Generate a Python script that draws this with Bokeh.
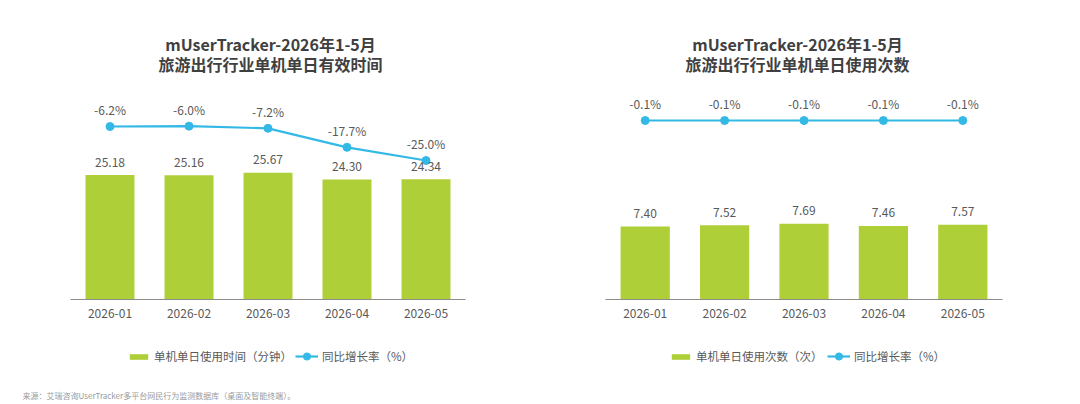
from bokeh.plotting import figure
from bokeh.models import (ColumnDataSource, FactorRange, Range1d, LabelSet,
                          Label, Legend, LegendItem)
from bokeh.layouts import row
from bokeh.embed import file_html
from bokeh.resources import INLINE
from bokeh.core.properties import value

months = ["2026-01", "2026-02", "2026-03", "2026-04", "2026-05"]

time_values = [25.18, 25.16, 25.67, 24.30, 24.34]
time_growth = [-6.2, -6.0, -7.2, -17.7, -25.0]

count_values = [7.40, 7.52, 7.69, 7.46, 7.57]
count_growth = [-0.1, -0.1, -0.1, -0.1, -0.1]

title_left = ["mUserTracker-2026年1-5月", "旅游出行行业单机单日有效时间"]
title_right = ["mUserTracker-2026年1-5月", "旅游出行行业单机单日使用次数"]
legend_bar_left = "单机单日使用时间（分钟）"
legend_bar_right = "单机单日使用次数（次）"
legend_line = "同比增长率（%）"
source_note = "来源：艾瑞咨询UserTracker多平台网民行为监测数据库（桌面及智能终端）。"

BAR = "#AECF37"
LINE = "#33B9E6"
TXT = "#595959"
TITLE = "#404040"
FONT = "Noto Sans CJK SC"
H = 402


def make_chart(vals, growth, titles, bar_label, bar_range, line_range,
               frame_w, border_right, pad, title_x, legend_x, legend2_x, footer=False):
    src = ColumnDataSource(dict(
        m=months, v=vals, g=growth,
        vt=["%.2f" % x for x in vals],
        gt=["%.1f%%" % x for x in growth],
    ))
    xr = FactorRange(*months, factor_padding=0, range_padding=pad,
                     range_padding_units="absolute")
    p = figure(x_range=xr, y_range=Range1d(*bar_range),
               width=frame_w + border_right, height=H,
               frame_width=frame_w, frame_height=H,
               min_border_left=0, min_border_right=border_right,
               min_border_top=0, min_border_bottom=0,
               y_axis_location=None, toolbar_location=None,
               output_backend="svg", background_fill_color="white",
               border_fill_color="white", outline_line_color=None)
    p.extra_y_ranges = {"g": Range1d(*line_range)}
    p.xgrid.visible = False
    p.ygrid.visible = False

    ax = p.xaxis[0]
    ax.fixed_location = 0
    ax.bounds = (0, 5)
    ax.axis_line_color = "#8c8c8c"
    ax.axis_line_width = 1
    ax.major_tick_line_color = None
    ax.minor_tick_line_color = None
    ax.major_label_standoff = 3
    ax.major_label_text_font = FONT
    ax.major_label_text_font_size = "12px"
    ax.major_label_text_color = TXT

    bars = p.vbar(x="m", top="v", width=0.62, source=src, color=BAR, line_color=None)
    ln = p.line(x="m", y="g", source=src, y_range_name="g", line_color=LINE, line_width=2.2)
    dots = p.scatter(x="m", y="g", source=src, y_range_name="g", size=8,
                     fill_color=LINE, line_color=LINE)

    p.add_layout(LabelSet(x="m", y="v", text="vt", source=src, y_offset=13,
                          text_align="center", text_baseline="middle",
                          text_font=value(FONT), text_font_size="12px", text_color=TXT))
    p.add_layout(LabelSet(x="m", y="g", text="gt", source=src, y_range_name="g", y_offset=17,
                          text_align="center", text_baseline="middle",
                          text_font=value(FONT), text_font_size="12px", text_color=TXT))

    for i, t in enumerate(titles):
        p.add_layout(Label(x=title_x, y=H - 43 - 20 * i, x_units="screen", y_units="screen",
                           text=t, text_align="center", text_baseline="middle",
                           text_font=FONT, text_font_size="16px",
                           text_font_style="bold", text_color=TITLE))

    common = dict(orientation="horizontal", glyph_width=23, label_standoff=4,
                  padding=0, margin=0, border_line_color=None, background_fill_alpha=0,
                  label_text_font=FONT, label_text_font_size="11.5px",
                  label_text_color=TXT, label_height=14)
    legend1 = Legend(items=[LegendItem(label=bar_label, renderers=[bars])],
                     location=(legend_x, H - 364), glyph_height=7, **common)
    legend2 = Legend(items=[LegendItem(label=legend_line, renderers=[ln, dots])],
                     location=(legend2_x, H - 365), glyph_height=18, **common)
    p.add_layout(legend1, "center")
    p.add_layout(legend2, "center")

    if footer:
        p.add_layout(Label(x=22, y=H - 395, x_units="screen", y_units="screen",
                           text=source_note, text_align="left", text_baseline="middle",
                           text_font=FONT, text_font_size="8px",
                           text_color="#9a9a9a"))
    return p


# left: categories span x 70..465 in a 535-px frame; right: 605..1002 in 540..1067
# range_padding (absolute) is applied on each side
p1 = make_chart(time_values, time_growth, title_left, legend_bar_left,
                (-(H - 299) / 4.94, 299 / 4.94), (-(H - 114.8) / 1.809, 114.8 / 1.809),
                535, 5, (535 - 395) / 79.0 / 2, 270, 127, 295, footer=True)
p2 = make_chart(count_values, count_growth, title_right, legend_bar_right,
                (-(H - 299) / 9.86, 299 / 9.86), (-(H - 115) / 50.0, 115 / 50.0),
                527, 13, (527 - 397) / 79.4 / 2, 257, 129, 287)

layout = row(p1, p2)
open("out.html", "w").write(file_html(layout, INLINE))
